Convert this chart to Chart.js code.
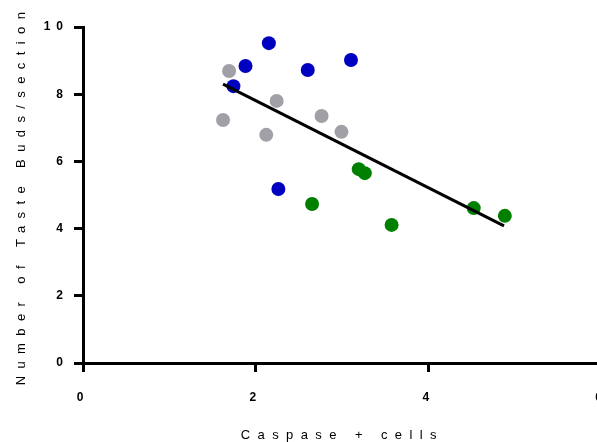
<!DOCTYPE html>
<html>
<head>
<meta charset="utf-8">
<script src="https://cdn.jsdelivr.net/npm/chart.js@4.4.1/dist/chart.umd.min.js"></script>
<style>
  html, body { margin: 0; padding: 0; background: #fff; overflow: hidden; }
  #wrap { width: 626px; height: 442px; }
</style>
</head>
<body>
<div id="wrap"><canvas id="chart" width="626" height="442"></canvas></div>
<script>
// data (caspase+ cells vs taste buds / section)
const blueX  = [2.15, 1.88, 2.60, 3.10, 1.74, 2.26];
const blueY  = [9.52, 8.84, 8.72, 9.02, 8.24, 5.18];
const grayX  = [1.69, 1.62, 2.24, 2.12, 2.76, 2.99];
const grayY  = [8.69, 7.23, 7.80, 6.79, 7.35, 6.88];
const greenX = [3.19, 3.26, 2.65, 3.57, 4.52, 4.88];
const greenY = [5.77, 5.65, 4.73, 4.11, 4.61, 4.38];
const fitX = [1.62, 4.87];
const fitY = [8.30, 4.08];
const xTicks = [0, 2, 4, 6];
const yTicks = [0, 2, 4, 6, 8, 10];

const pts = (xs, ys) => xs.map((x, i) => ({ x: x, y: ys[i] }));

// espacement des lettres comme dans l'original (plus large pour les titres)
const spacing = {
  id: "spacing",
  beforeLayout(chart) { chart.ctx.letterSpacing = "6px"; },
  afterLayout(chart) {
    Object.values(chart.scales).forEach(s => {
      if (s._spaced) return;
      const orig = s.drawTitle;
      s.drawTitle = function () {
        const ctx = this.ctx;
        ctx.save();
        ctx.letterSpacing = "7.4px";
        orig.apply(this, arguments);
        ctx.restore();
      };
      s._spaced = true;
    });
  },
  beforeDraw(chart) { chart.ctx.letterSpacing = "6px"; }
};

new Chart(document.getElementById("chart"), {
  type: "scatter",
  data: {
    datasets: [
      { data: pts(fitX, fitY), type: "line", borderColor: "#000", borderWidth: 3, pointRadius: 0, fill: false, order: 0 },
      { data: pts(blueX, blueY), backgroundColor: "#0000c0", borderWidth: 0, pointRadius: 7, order: 1 },
      { data: pts(grayX, grayY), backgroundColor: "#a0a0a6", borderWidth: 0, pointRadius: 7, order: 1 },
      { data: pts(greenX, greenY), backgroundColor: "#008000", borderWidth: 0, pointRadius: 7, order: 1 }
    ]
  },
  options: {
    responsive: false,
    animation: false,
    layout: { padding: { top: 27, left: 0, right: 8, bottom: 0 } },
    plugins: { legend: { display: false }, tooltip: { enabled: false } },
    scales: {
      x: {
        type: "linear", min: 0, max: 6,
        afterBuildTicks: s => { s.ticks = xTicks.map(v => ({ value: v })); },
        afterFit: s => { s.height = 79; },
        border: { color: "#000", width: 3 },
        grid: { drawOnChartArea: false, color: "#000", lineWidth: 3, tickLength: 9 },
        ticks: { color: "#000", font: { family: "Liberation Sans", size: 12, weight: "bold" }, padding: 18, maxRotation: 0 },
        title: { display: true, text: "Caspase + cells", color: "#000", font: { family: "Liberation Sans", size: 13 }, padding: { top: 0, bottom: -1 } }
      },
      y: {
        type: "linear", min: 0, max: 10,
        afterBuildTicks: s => { s.ticks = yTicks.map(v => ({ value: v })); },
        afterFit: s => { s.width = 83; },
        border: { color: "#000", width: 3 },
        grid: { drawOnChartArea: false, color: "#000", lineWidth: 3, tickLength: 9 },
        ticks: { color: "#000", font: { family: "Liberation Sans", size: 12, weight: "bold" }, padding: 5 },
        title: { display: true, text: "Number of Taste Buds/section", color: "#000", font: { family: "Liberation Sans", size: 13 }, padding: { top: 14, bottom: 0 } }
      }
    }
  },
  plugins: [spacing]
});
</script>
</body>
</html>
